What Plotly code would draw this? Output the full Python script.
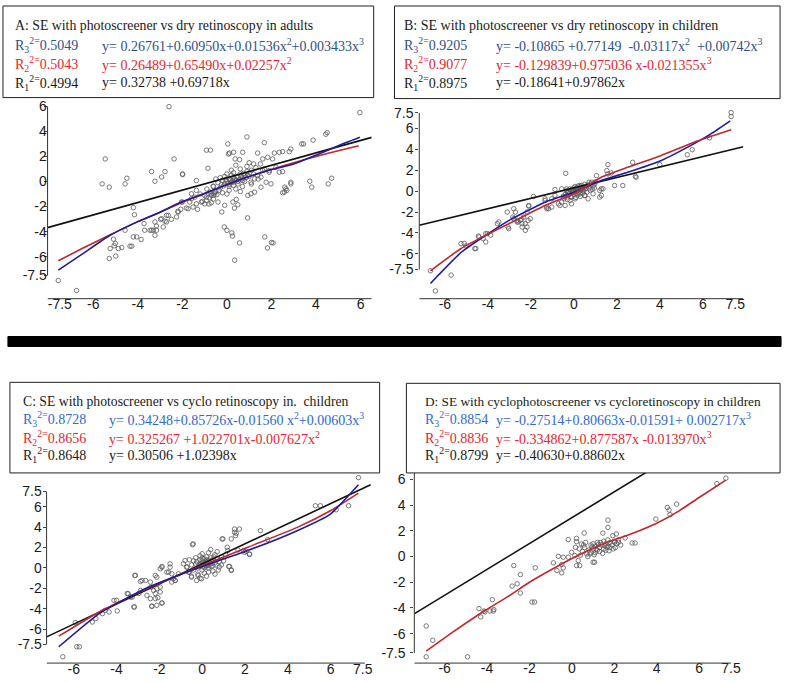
import plotly.graph_objects as go

W, H = 795, 682

# ---------------- data ----------------
a_points = [(5.97,5.5),(-2.6,5.97),(-7.57,-7.9),(-6.75,-8.7),(-5.46,1.8),(-5.6,-0.19),(-5.28,-0.45),(-4.49,0.26),
 (-4.57,-0.19),(-3.38,0.79),(-3.23,0.02),(-2.78,0.79),(-2.93,0.36),(-2.37,1.8),(-1.99,0.6),(-0.92,2.5),(-0.74,2.5),
 (0.04,3.0),(0.9,3.55),(1.68,3.1),(0.07,2.2),(0.3,2.33),(3.36,3.0),(3.44,3.0),(4.5,3.9),(4.44,3.77),(3.87,3.3),
 (3.72,0.02),(3.81,-0.45),(4.55,-0.19),(4.7,0.26),(2.87,-0.06),(2.65,-0.59),(2.5,-0.9),(-0.12,-3.63),(0.0,-3.9),
 (0.22,-4.1),(0.25,-4.35),(0.57,-4.9),(0.35,-6.28),(0.93,-2.9),(1.7,-4.42),(1.82,-5.3),(2.07,-4.9),(-0.23,-2.43),
 (-5.24,-5.35),(-5.06,-5.13),(-5.01,-4.95),(-4.87,-5.35),(-4.72,-5.27),(-5.28,-6.14),(-4.99,-5.95),(-5.09,-4.6),
 (-4.57,-3.89),(-4.35,-5.16),(-4.27,-5.16),(-4.2,-4.42),(-4.05,-4.42),(-3.85,-4.63),(-3.72,-3.36),(-3.69,-3.89),
 (-3.45,-3.89),(-3.3,-3.89),(-3.23,-4.29),(-3.16,-3.55),(-2.98,-3.02),(-2.78,-3.17),(-2.71,-2.7),(-2.49,-3.02),
 (-2.26,-2.83),(-2.2,-2.38),(-2.07,-2.22),(-2.0,-1.64),(-1.82,-2.12),(-1.67,-1.64),(-1.59,-0.98),(-1.44,-1.25),
 (-1.37,-0.71),(-1.32,-2.22),(-1.15,-1.64),(-0.92,-1.25),(-0.77,-0.85),(-0.62,-0.37),(-4.2,-2.09),(-4.15,-2.65),
 (-1.99,0.55),(-1.37,0.08),(-0.85,1.05),(0.12,2.27),(0.37,1.8),(0.57,1.74),(0.71,2.33),(1.38,2.27),(2.13,2.27),
 (2.35,2.33),(2.5,2.38),(2.87,2.59),(2.8,2.38),(1.61,1.8),(1.83,1.93),(2.05,1.8),(1.68,1.0),(1.9,0.87),(2.2,1.13),
 (2.35,0.74),(2.5,0.79),(2.87,-0.19),(2.6,-0.45),(2.69,-0.71),(2.58,-0.85),(1.76,-0.06),(1.53,-0.45),(1.24,-0.85),
 (0.94,-1.11),(1.08,-0.98),(1.98,-0.19),(0.42,-1.43),(0.27,-1.64),(0.34,-2.12),(0.49,-1.86),(2.0,-4.87),
 (-0.4,-1.64),(-0.1,-1.9),(-0.7,-1.11),(-0.92,-1.51),(-0.55,-0.85),(-1.0,-1.78),(-1.52,-2.04),(-1.74,-2.17),
 (-1.37,-1.78),(-1.59,-1.38),(-2.04,-1.64),(-2.19,-2.44),(-2.63,-2.7),(-2.93,-2.97),(-3.23,-3.23),(-2.71,-3.23),
 (-3.38,-3.89),(-3.16,-3.89),(-2.86,-3.63),(0.71,0.08),(0.94,0.48),(1.24,0.21),(1.38,0.48),(1.08,-0.06),
 (1.53,0.34),(1.9,0.74),
 (0.0,0.0),(0.1,0.2),(0.2,-0.1),(0.3,0.3),(-0.1,-0.2),(0.2,0.5),(0.4,0.1),(0.5,0.4),(-0.2,0.1),(0.1,-0.4),
 (0.3,-0.3),(0.6,0.6),(0.7,0.2),(-0.3,-0.5),(-0.4,-0.1),(0.0,0.6),(0.8,0.5),(0.9,0.8),(1.0,0.4),(0.5,-0.2),
 (-0.5,-0.8),(-0.6,-0.4),(-0.2,-0.9),(0.1,-0.7),(0.4,-0.6),(0.6,1.0),(0.2,0.9),(-0.1,0.4),(1.1,0.9),(1.2,0.6),
 (0.7,-0.4),(-0.7,-1.0),(-0.8,-1.3),(-0.3,0.3),(0.0,-1.0),(0.3,0.7),(0.5,0.0),(0.8,0.0),(-0.5,0.2),(1.3,1.1),
 (0.9,1.2),(0.4,1.3),(-0.9,-0.6),(-1.0,-1.1),(-0.6,-1.4),(0.15,0.1),(0.25,0.05),(0.35,0.2),(0.05,-0.15),
 (-0.05,0.15),(0.45,0.35),(0.55,0.15),(0.65,0.45),(0.75,0.65),(-0.15,-0.35),(-0.25,-0.25),(0.1,-0.25),
 (0.3,-0.05),(1.5,1.4),(1.6,0.9),(1.4,0.2),(-0.8,-1.8),(-0.7,-1.7),(-1.2,-1.0),(-1.1,-1.6),(-0.55,-0.98),
 (-0.6,-1.1),(-0.45,-1.05),(1.0,1.5),(1.2,1.4),(0.85,0.3),(-0.35,-0.7),(0.6,-0.8),(1.1,-0.2)]

b_points = [(7.31,7.52),(7.31,7.14),(-6.44,-9.55),(-6.67,-7.62),(-5.71,-8.03),(-5.25,-5.02),(-5.02,-5.24),
 (-5.1,-5.0),(-4.61,-5.49),(-4.44,-4.29),(-4.1,-4.86),(-4.22,-4.54),(-4.1,-4.06),(-3.87,-4.22),(-3.56,-3.11),
 (-3.1,-2.0),(-3.06,-3.43),(-2.8,-1.68),(-2.84,-2.48),(-2.64,-2.79),(-2.59,-2.95),(-2.44,-2.7),(-2.41,-3.11),
 (-2.26,-3.75),(-2.18,-3.43),(-2.34,-2.48),(-2.13,-2.79),(-2.03,-2.63),(-2.18,-2.0),(-2.1,-1.43),(-1.88,-0.51),
 (-1.34,-0.89),(-1.26,-1.68),(-1.18,-1.68),(-1.03,-0.73),(-0.72,-1.21),(-0.65,-1.37),(-0.57,-1.05),(-0.41,-0.57),
 (-0.34,0.22),(-0.26,-0.1),(-0.88,0.16),(-0.57,0.22),(-0.18,-0.89),(-0.11,-0.57),(-0.38,1.71),(1.58,2.54),
 (1.53,1.97),(1.58,1.65),(1.74,1.74),(1.89,0.54),(2.27,0.54),(2.73,2.76),(2.89,1.33),(3.99,2.54),(5.27,3.49),
 (5.5,3.97),(6.3,5.1),(1.2,0.07),(1.35,0.22),(1.28,-0.41),(0.97,0.7),(1.05,1.49),(0.66,-0.73),(0.51,-0.41),
 (0.28,0.54),(0.82,0.86),(2.86,1.43),(1.27,0.22),(1.2,-0.57),(0.89,-0.25),(-2.1,-1.37),(-1.34,-0.73),
 (-0.88,-0.41),(-1.03,-1.52),(-1.26,-1.52),(-0.41,-1.37),(-0.11,-1.21),(0.05,-0.73),(-2.72,-2.0),(-3.49,-2.95),
 (-2.8,-2.63),(-2.49,-2.79),(-2.26,-3.11),(-2.64,-2.95),(-2.41,-3.43),(-3.03,-3.59),(-4.02,-4.06),(-4.41,-4.38),
 (-4.56,-5.49),
 (0.0,0.0),(0.1,0.1),(-0.1,-0.1),(0.2,0.2),(0.3,0.1),(-0.2,-0.2),(0.0,0.3),(0.1,-0.2),(0.4,0.3),(0.5,0.4),
 (-0.3,-0.1),(-0.2,0.2),(0.2,-0.1),(0.3,0.4),(0.6,0.5),(0.0,-0.3),(-0.1,0.2),(0.15,0.05),(0.25,0.25),
 (-0.05,-0.05),(0.35,0.15),(0.45,0.0),(0.55,0.25),(0.65,0.6),(0.7,0.3),(0.8,0.7),(0.9,0.5),(1.0,0.9),
 (-0.4,-0.3),(-0.5,-0.5),(-0.35,0.05),(-0.25,-0.4),(0.05,0.45),(0.4,-0.2),(0.5,-0.4),(0.2,0.5),(-0.15,-0.55),
 (0.1,-0.6),(0.3,-0.5),(0.75,0.1),(0.85,0.2),(0.6,-0.1),(-0.45,-0.7),(0.0,0.15),(0.12,0.32),(-0.08,0.05),
 (0.28,-0.25),(0.5,0.65),(0.95,0.3),(0.7,0.85),(-0.3,-0.8),(0.35,0.55),(0.18,-0.35),(0.42,0.1)]

c_points = [(7.3,8.86),(-6.51,-8.7),(-5.86,-7.72),(-5.74,-7.72),(-5.93,-5.35),(5.29,6.1),(5.52,6.1),(6.26,5.71),
 (6.84,6.1),(3.06,2.78),(2.72,3.66),(1.51,3.82),(1.74,3.82),(1.51,3.5),(1.56,3.17),(1.36,2.85),(1.94,1.71),
 (2.05,1.64),(2.21,1.32),(1.67,1.77),(1.24,0.15),(1.36,-0.18),(0.93,2.85),(-0.45,2.29),(-3.15,-0.73),(-2.88,-1.32),
 (-4.12,-3.17),(-3.5,-2.5),(-3.35,-2.85),(-3.19,-3.82),(-2.96,-2.5),(-2.35,-3.73),(-2.07,-2.91),(-1.96,-2.36),
 (-1.88,-3.43),(-2.19,-2.5),(-2.38,-1.87),(-2.12,-2.03),(-1.96,-0.08),(-1.88,0.15),(-1.5,0.08),(-1.57,-0.41),
 (-1.42,-0.57),(-1.34,-1.06),(-1.26,-1.22),(-2.19,-0.73),(-2.65,-1.22),(-2.42,-1.38),(-5.13,-5.29),(-4.97,-4.96),
 (-4.66,-4.47),(-4.35,-4.31),(-3.97,-4.21),(-0.42,2.36),(0.97,2.85),(1.59,3.4),(1.17,2.03),(1.2,1.71),
 (1.98,1.54),(2.21,1.38),(1.28,0.15),(1.36,-0.24),(-0.8,0.73),(-0.88,0.41),(-0.73,0.08),(-0.65,-0.41),
 (-0.5,-0.9),(-0.26,-1.22),(-0.03,-1.06),(-0.19,-0.73),(-1.11,-0.57),(-1.26,-1.22),(-1.42,-1.38),(-1.5,0.41),
 (-1.88,0.08),(-1.65,-0.41),(-1.96,-1.87),(-2.12,-0.9),(-2.27,-2.2),(-2.19,-3.0),(-2.81,-1.22),(-3.12,-0.73),
 (-2.88,-2.2),(-3.27,-2.85),(-2.58,-2.68),(-2.42,-3.0),(-2.12,-3.66),(-2.35,-3.76),(-1.88,-3.43),(-3.17,-3.82),
 (-4.0,-3.17),(-3.46,-2.52),(-4.54,-4.15),
 (0.0,0.3),(0.1,0.4),(0.2,0.5),(-0.1,0.2),(0.3,0.6),(0.2,0.2),(0.0,0.7),(-0.2,0.0),(0.4,0.4),(0.1,0.9),
 (-0.3,0.4),(0.3,0.0),(0.5,0.8),(0.6,0.5),(-0.4,-0.2),(0.0,-0.2),(0.2,1.1),(-0.1,0.8),(0.4,1.0),(0.5,0.2),
 (0.7,0.9),(0.8,0.6),(-0.5,0.3),(-0.6,-0.4),(0.1,-0.5),(0.3,-0.4),(-0.2,-0.6),(0.6,1.3),(0.9,1.1),(1.0,0.7),
 (-0.3,1.0),(0.0,1.4),(0.3,1.5),(-0.7,0.1),(-0.5,-0.8),(0.5,-0.3),(0.8,0.1),(0.15,0.25),(0.25,0.35),
 (0.05,0.55),(-0.05,0.45),(0.35,0.75),(0.45,0.65),(-0.15,0.35),(0.12,0.05),(0.22,0.8),(-0.25,0.6),(0.55,1.1),
 (0.65,0.3),(0.7,1.6),(0.4,1.8),(-0.1,1.2),(-0.4,0.7),(0.9,0.3),(0.2,-0.8),(-0.1,-1.0),(0.6,-0.6),(1.1,1.3),
 (0.75,-0.2),(-0.6,0.8),(0.05,0.1),(0.3,0.25),(0.18,0.62),(0.42,0.15),(0.0,0.95)]

d_points = [(7.26,6.1),(6.84,5.68),(4.94,4.08),(4.5,3.82),(4.58,3.62),(4.63,3.26),(3.96,2.92),(2.84,1.06),
 (2.98,1.06),(2.51,1.45),(1.7,2.84),(1.7,2.27),(1.46,1.83),(1.93,1.63),(2.09,1.76),(2.2,1.11),(2.01,1.11),
 (0.58,1.83),(0.22,1.42),(0.22,1.16),(0.45,0.98),(-0.17,1.32),(0.17,0.72),(1.0,-0.44),(1.07,-0.44),
 (-0.01,0.33),(0.14,0.08),(-0.17,-0.05),(-0.41,-0.05),(0.22,-0.7),(0.37,-0.7),(0.3,-0.31),(-0.48,-0.62),
 (-0.41,-0.88),(-0.64,0.02),(-0.71,-1.09),(-0.87,-0.49),(-0.48,-1.27),(-1.73,-0.88),(-2.43,-1.4),(-2.74,-0.7),
 (-2.58,-2.12),(-2.82,-2.3),(-2.43,-2.84),(-1.88,-3.54),(-1.76,-3.54),(-3.75,-3.36),(-3.68,-4.13),(-4.38,-4.05),
 (-4.92,-7.8),(-6.87,-7.8),(-6.87,-5.4),(-6.56,-6.51),(-4.14,-4.24),(-4.1,-4.31),(-3.86,-4.24),(-3.71,-4.24),
 (-4.3,-4.7),
 (0.8,0.5),(1.0,0.6),(1.1,0.8),(1.2,0.5),(0.9,0.3),(1.3,0.7),(1.4,0.9),(1.5,0.6),(1.6,1.0),(1.7,0.8),
 (1.8,1.1),(1.9,0.9),(2.0,1.2),(2.1,1.0),(2.2,1.3),(0.7,0.2),(0.6,0.7),(0.5,0.4),(0.4,0.1),(1.0,1.0),
 (1.1,0.3),(1.2,1.1),(1.3,0.4),(1.5,1.2),(1.6,0.5),(1.7,1.3),(1.8,0.7),(0.9,0.9),(0.75,0.0),(1.05,0.15),
 (1.25,0.95),(1.45,0.25),(1.35,1.1),(1.65,0.75),(1.95,0.6),(2.3,0.9),(0.55,0.9),(0.35,0.6),(0.65,1.1),
 (1.15,0.55),(1.55,0.85),(0.95,0.75),(0.85,0.2),(1.75,0.45),(2.05,0.7)]

# fitted curves as drawn in the picture
a_black_x = [-8.05, 6.5]
a_black_y = [-3.68, 3.52]
a_red_x = [-7.57, -6.5, -5.3, -4, -3, -2, -1, 0, 1, 2, 3, 4, 5, 5.92]
a_red_y = [-6.33, -5.35, -4.3, -3.2, -2.45, -1.65, -0.95, -0.25, 0.4, 0.95, 1.5, 2.0, 2.45, 2.85]
a_blue_x = [-7.57, -6.5, -5.3, -4, -3, -2, -1, 0, 1, 2, 3, 4, 5, 5.97]
a_blue_y = [-7.07, -5.8, -4.35, -3.2, -2.45, -1.6, -0.95, -0.25, 0.4, 0.95, 1.4, 2.1, 2.85, 3.52]

b_black_x = [-7.19, 7.88]
b_black_y = [-3.27, 4.25]
b_red_x = [-6.67, -5.25, -4.1, -2.87, -1.34, 0, 1.27, 2.5, 4.04, 5.57, 7.31]
b_red_y = [-7.62, -5.49, -4.22, -2.95, -1.37, -0.25, 1.33, 2.29, 3.4, 4.67, 5.87]
b_blue_x = [-6.67, -5.25, -4.1, -2.87, -1.34, 0, 1.27, 2.5, 4.04, 5.27, 6.35, 7.27]
b_blue_y = [-8.83, -5.87, -4.22, -2.63, -1.05, -0.1, 1.02, 1.81, 2.92, 4.19, 5.46, 6.73]

c_black_x = [-7.27, 7.87]
c_black_y = [-6.75, 8.15]
c_red_x = [-6.7, -4.81, -2.5, 0, 2.13, 4.44, 5.99, 7.3]
c_red_y = [-6.68, -4.31, -1.95, 0.24, 2.03, 3.98, 5.61, 7.34]
c_blue_x = [-6.7, -4.81, -2.5, 0, 2.13, 4.44, 5.99, 7.3]
c_blue_y = [-7.72, -4.47, -1.87, 0.15, 1.71, 3.66, 5.29, 8.15]

d_black_x = [-7.42, 3.6]
d_black_y = [-4.44, 6.65]
d_red_x = [-6.87, -5.5, -4.1, -3, -2, -1, 0, 1, 2, 3, 4, 5, 6, 7.26]
d_red_y = [-7.36, -5.75, -4.2, -3.1, -2.0, -1.05, -0.15, 0.65, 1.3, 1.9, 2.6, 3.5, 4.6, 5.95]

ticks_full = [-7.5, -6, -4, -2, 0, 2, 4, 6]
ticks_pos = [-6, -4, -2, 0, 2, 4, 6, 7.5]
ticks_sym = [-7.5, -6, -4, -2, 0, 2, 4, 6, 7.5]

titles = ["A: SE with photoscreener vs dry retinoscopy in adults",
          "B: SE with photoscreener vs dry retinoscopy in children",
          "C: SE with photoscreener vs cyclo retinoscopy in.  children",
          "D: SE with cyclophotoscreener vs cycloretinoscopy in children"]
r3_labels = ["0.5049", "0.9205", "0.8728", "0.8854"]
r2_labels = ["0.5043", "0.9077", "0.8656", "0.8836"]
r1_labels = ["0.4994", "0.8975", "0.8648", "0.8799"]
eq3 = ["y= 0.26761+0.60950x+0.01536x<sup>2</sup>+0.003433x<sup>3</sup>",
       "y= -0.10865 +0.77149  -0.03117x<sup>2</sup>  +0.00742x<sup>3</sup>",
       "y= 0.34248+0.85726x-0.01560 x<sup>2</sup>+0.00603x<sup>3</sup>",
       "y= -0.27514+0.80663x-0.01591+ 0.002717x<sup>3</sup>"]
eq2 = ["y= 0.26489+0.65490x+0.02257x<sup>2</sup>",
       "y= -0.129839+0.975036 x-0.021355x<sup>3</sup>",
       "y= 0.325267 +1.022701x-0.007627x<sup>2</sup>",
       "y= -0.334862+0.877587x -0.013970x<sup>3</sup>"]
eq1 = ["y= 0.32738 +0.69718x",
       "y= -0.18641+0.97862x",
       "y= 0.30506 +1.02398x",
       "y= -0.40630+0.88602x"]

# ---------------- styling / layout ----------------
RED_LINE = "#c3262c"
BLUE_LINE = "#1c1c9c"
BLUE_TXT = ["#30508c", "#30508c", "#2f6ad0", "#2f6ad0"]
RED_TXT = "#e8262c"
TXT = "#1a1a1a"

def fx(p):
    return p / W

def fy(p):
    return 1 - p / H

panels = [
    dict(pts=a_points, curves=[(a_black_x, a_black_y, "#111"), (a_red_x, a_red_y, RED_LINE), (a_blue_x, a_blue_y, BLUE_LINE)],
         xr=[-8.05, 6.5], yr=[-9.35, 6.4], xd=[48, 375], yd=[98.7, 297], xt=ticks_full, yt=ticks_full,
         xl=[-8.05, 6.5], yl=[-7.5, 6], ysd=-6, xsd=-5,
         box=[3, 3, 377, 95], tx=15, ex=103, ty=[23, 42, 61, 80], tsize=13.8),
    dict(pts=b_points, curves=[(b_black_x, b_black_y, "#111"), (b_blue_x, b_blue_y, BLUE_LINE), (b_red_x, b_red_y, RED_LINE)],
         xr=[-7.19, 7.88], yr=[-10.29, 8.1], xd=[423, 750], yd=[104, 297], xt=ticks_pos, yt=ticks_sym,
         xl=[-7.19, 7.88], yl=[-7.5, 7.5], ysd=-1, xsd=-5,
         box=[398, 3, 787, 96], tx=408, ex=500, ty=[23, 42, 61, 80], tsize=14),
    dict(pts=c_points, curves=[(c_black_x, c_black_y, "#111"), (c_red_x, c_red_y, RED_LINE), (c_blue_x, c_blue_y, BLUE_LINE)],
         xr=[-7.27, 7.92], yr=[-9.32, 9.22], xd=[47, 375], yd=[473, 663], xt=ticks_pos, yt=ticks_sym,
         xl=[-7.27, 7.6], yl=[-7.5, 7.5], ysd=-2, xsd=-4,
         box=[10, 381, 383, 472], tx=23, ex=110, ty=[400, 418, 437, 454], tsize=13.7),
    dict(pts=d_points, curves=[(d_black_x, d_black_y, "#111"), (d_red_x, d_red_y, RED_LINE)],
         xr=[-7.43, 7.62], yr=[-8.29, 6.51], xd=[418, 740], yd=[472, 663], xt=ticks_pos, yt=ticks_full,
         xl=[-7.43, 7.5], yl=[-7.5, 6.5], ysd=2, xsd=-5,
         box=[410, 382, 787, 472], tx=429, ex=500, ty=[400, 418, 437, 454], tsize=13.3),
]

fig = go.Figure()
shapes = []
annotations = []
tickfont = dict(family="Liberation Sans, Arial, sans-serif", size=14, color="#1a1a1a")
textfont = "Liberation Serif, Times New Roman, serif"
PAD = 2  # annotation inner padding

for i, p in enumerate(panels):
    n = "" if i == 0 else str(i + 1)
    xa, ya = "x" + n, "y" + n
    px_, py_ = zip(*p["pts"])
    fig.add_trace(go.Scatter(x=list(px_), y=list(py_), mode="markers", xaxis=xa, yaxis=ya,
                             marker=dict(symbol="circle-open", size=4.5, color="#5a5a5a", line=dict(width=0.8)),
                             showlegend=False, hoverinfo="skip"))
    for cx, cy, col in p["curves"]:
        fig.add_trace(go.Scatter(x=cx, y=cy, mode="lines", xaxis=xa, yaxis=ya,
                                 line=dict(color=col, width=1.6, shape="spline", smoothing=0.5),
                                 showlegend=False, hoverinfo="skip"))
    common = dict(showgrid=False, zeroline=False, showline=False, tickfont=tickfont, fixedrange=True)
    fig.layout["xaxis" + n] = dict(domain=[fx(p["xd"][0]), fx(p["xd"][1])], range=p["xr"], anchor=ya,
                                   tickvals=p["xt"], ticktext=[f"{v:g}" for v in p["xt"]], ticks="",
                                   ticklabelstandoff=p["xsd"], **common)
    fig.layout["yaxis" + n] = dict(domain=[fy(p["yd"][1]), fy(p["yd"][0])], range=p["yr"], anchor=xa,
                                   tickvals=p["yt"], ticktext=[f"{v:g}" for v in p["yt"]],
                                   ticks="outside", ticklen=3, tickwidth=1, tickcolor="#444",
                                   ticklabelstandoff=p["ysd"], **common)
    # axis lines (only span their tick range, R base-graphics style)
    shapes.append(dict(type="line", xref=xa + " domain", yref=ya, x0=0, x1=0, y0=p["yl"][0], y1=p["yl"][1],
                       line=dict(color="#333", width=1)))
    shapes.append(dict(type="line", xref=xa, yref=ya + " domain", x0=p["xl"][0], x1=p["xl"][1], y0=0, y1=0,
                       line=dict(color="#333", width=1)))
    # text box
    b = p["box"]
    shapes.append(dict(type="rect", xref="paper", yref="paper", x0=fx(b[0]), x1=fx(b[2]), y0=fy(b[3]), y1=fy(b[1]),
                       line=dict(color="#222", width=1), fillcolor="rgba(0,0,0,0)"))
    rows = [
        (titles[i], None, TXT),
        ("R<sub>3</sub><sup>2=</sup>" + r3_labels[i], eq3[i], BLUE_TXT[i]),
        ("R<sub>2</sub><sup>2=</sup>" + r2_labels[i], eq2[i], RED_TXT),
        ("R<sub>1</sub><sup>2=</sup>" + r1_labels[i], eq1[i], TXT),
    ]
    for k, ((lab, eq, col), yy) in enumerate(zip(rows, p["ty"])):
        size = p["tsize"] if k == 0 else 14
        annotations.append(dict(text=lab, x=fx(p["tx"] - PAD), y=fy(yy), xref="paper", yref="paper",
                                xanchor="left", yanchor="middle", showarrow=False,
                                font=dict(family=textfont, size=size, color=col)))
        if eq:
            annotations.append(dict(text=eq, x=fx(p["ex"] - PAD), y=fy(yy), xref="paper", yref="paper",
                                    xanchor="left", yanchor="middle", showarrow=False,
                                    font=dict(family=textfont, size=14, color=col)))

# thick separator bar
shapes.append(dict(type="rect", xref="paper", yref="paper", x0=fx(8), x1=fx(788), y0=fy(345), y1=fy(335),
                   line=dict(color="black", width=1), fillcolor="black"))

fig.update_layout(width=W, height=H, margin=dict(l=0, r=0, t=0, b=0),
                  paper_bgcolor="white", plot_bgcolor="rgba(0,0,0,0)",
                  shapes=shapes, annotations=annotations, showlegend=False)

fig.write_html("out.html", config={"displayModeBar": False},
               post_script="document.body.style.margin='0';")
